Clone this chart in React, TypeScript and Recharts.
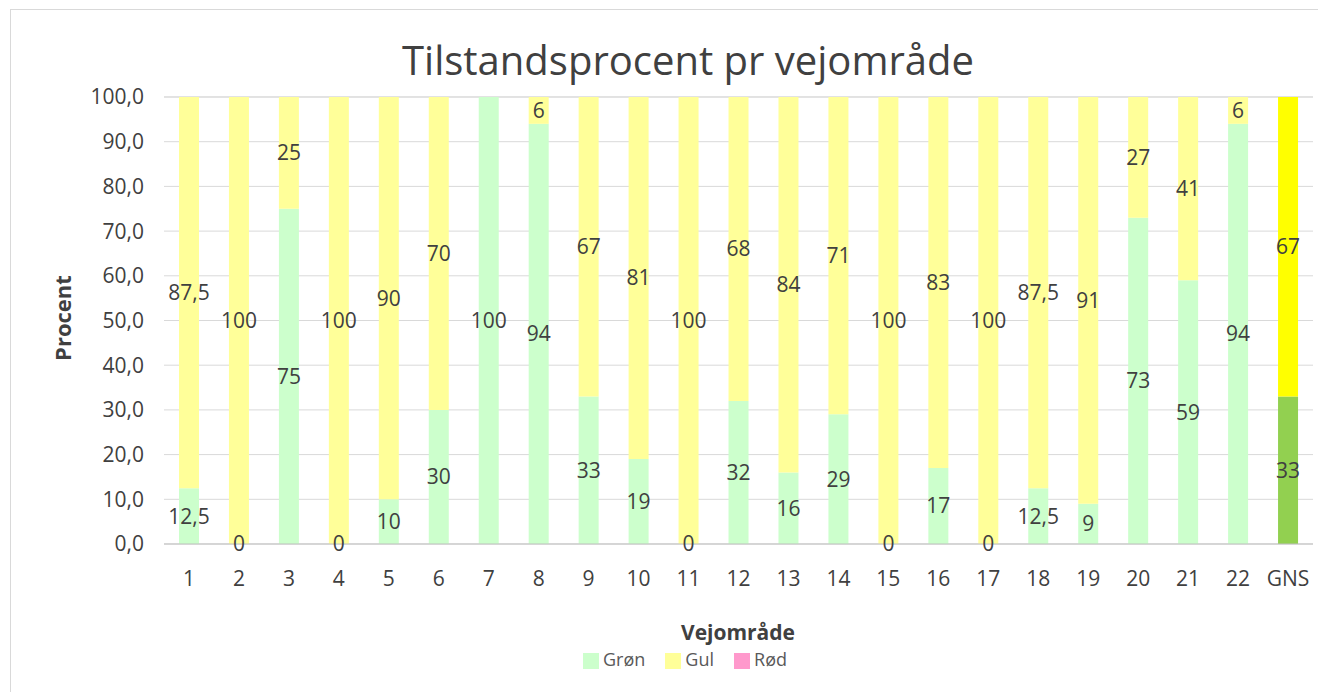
import { BarChart, Bar, XAxis, YAxis, CartesianGrid, Legend, LabelList, Cell } from 'recharts'

const categories = ['1', '2', '3', '4', '5', '6', '7', '8', '9', '10', '11', '12', '13', '14', '15', '16', '17', '18', '19', '20', '21', '22', 'GNS']
const gronValues = [12.5, 0, 75, 0, 10, 30, 100, 94, 33, 19, 0, 32, 16, 29, 0, 17, 0, 12.5, 9, 73, 59, 94, 33]
const gulValues: (number | null)[] = [87.5, 100, 25, 100, 90, 70, null, 6, 67, 81, 100, 68, 84, 71, 100, 83, 100, 87.5, 91, 27, 41, 6, 67]
const rodValues: (number | null)[] = categories.map(() => null)
const yTicks = [0, 10, 20, 30, 40, 50, 60, 70, 80, 90, 100]

// zero-height bars get no label from recharts, so a tiny invisible segment carries the "0" label
const data = categories.map((c, i) => ({
  name: c,
  zero: gronValues[i] === 0 ? 0.0001 : null,
  gron: gronValues[i],
  gul: gulValues[i],
  rod: rodValues[i]
}))

const FONT = '"Open Sans", sans-serif'
const TEXT = '#404040'

const fmt = (v: any) => (v === null || v === undefined ? '' : String(v).replace('.', ','))

export default function App() {
  return (
    <div style={{ position: 'absolute', left: 0, top: 0, width: 1318, height: 692, background: '#fff', fontFamily: FONT, overflow: 'hidden' }}>
      <div style={{ position: 'absolute', left: 10, top: 9, width: 1400, height: 700, borderLeft: '1px solid #d9d9d9', borderTop: '1px solid #d9d9d9' }} />
      <div style={{ position: 'absolute', left: 10, width: 1356, top: 33, textAlign: 'center', fontSize: 40, color: TEXT, lineHeight: '54px' }}>
        Tilstandsprocent pr vejområde
      </div>
      <div style={{ position: 'absolute', left: 62, top: 318, transform: 'translate(-50%, -50%) rotate(-90deg)', fontSize: 22, fontWeight: 'bold', color: TEXT, whiteSpace: 'nowrap' }}>
        Procent
      </div>
      <div style={{ position: 'absolute', left: 738, top: 632, transform: 'translate(-50%, -50%)', fontSize: 21, fontWeight: 'bold', color: TEXT, whiteSpace: 'nowrap', lineHeight: '26px' }}>
        Vejområde
      </div>
      <div style={{ position: 'absolute', left: 0, top: 0 }}>
        <BarChart width={1318} height={692} data={data} margin={{ top: 97, right: 5, left: 80, bottom: 118 }}>
          <CartesianGrid vertical={false} stroke="#d9d9d9" />
          <XAxis
            dataKey="name"
            tickLine={false}
            axisLine={{ stroke: '#bfbfbf' }}
            tickMargin={21}
            tick={{ fill: TEXT, fontSize: 21, fontFamily: FONT }}
            interval={0}
          />
          <YAxis
            domain={[0, 100]}
            ticks={yTicks}
            width={84}
            tickLine={false}
            axisLine={false}
            tickMargin={14}
            tickFormatter={(v: number) => v.toFixed(1).replace('.', ',')}
            tick={{ fill: TEXT, fontSize: 21, fontFamily: FONT }}
          />
          <Legend
            verticalAlign="middle"
            align="center"
            iconType="square"
            iconSize={16}
            wrapperStyle={{ top: 648, left: 36, width: 1318, fontFamily: FONT, fontSize: 18, lineHeight: '22px' }}
            formatter={(value: string) => <span style={{ color: '#595959', marginRight: 10 }}>{value}</span>}
          />
          <Bar dataKey="zero" stackId="a" fill="transparent" barSize={20} legendType="none" isAnimationActive={false}>
            <LabelList dataKey="zero" position="center" formatter={() => '0'} fill={TEXT} fontSize={21} fontFamily={FONT} />
          </Bar>
          <Bar dataKey="gron" name="Grøn" stackId="a" fill="#ccffcc" barSize={20} isAnimationActive={false}>
            {data.map((d, i) => (
              <Cell key={`g-${i}`} fill={d.name === 'GNS' ? '#92d050' : '#ccffcc'} />
            ))}
            <LabelList dataKey="gron" position="center" formatter={fmt} fill={TEXT} fontSize={21} fontFamily={FONT} />
          </Bar>
          <Bar dataKey="gul" name="Gul" stackId="a" fill="#ffff99" barSize={20} isAnimationActive={false}>
            {data.map((d, i) => (
              <Cell key={`y-${i}`} fill={d.name === 'GNS' ? '#ffff00' : '#ffff99'} />
            ))}
            <LabelList dataKey="gul" position="center" formatter={fmt} fill={TEXT} fontSize={21} fontFamily={FONT} />
          </Bar>
          <Bar dataKey="rod" name="Rød" stackId="a" fill="#ff99cc" barSize={20} isAnimationActive={false} />
        </BarChart>
      </div>
    </div>
  )
}
